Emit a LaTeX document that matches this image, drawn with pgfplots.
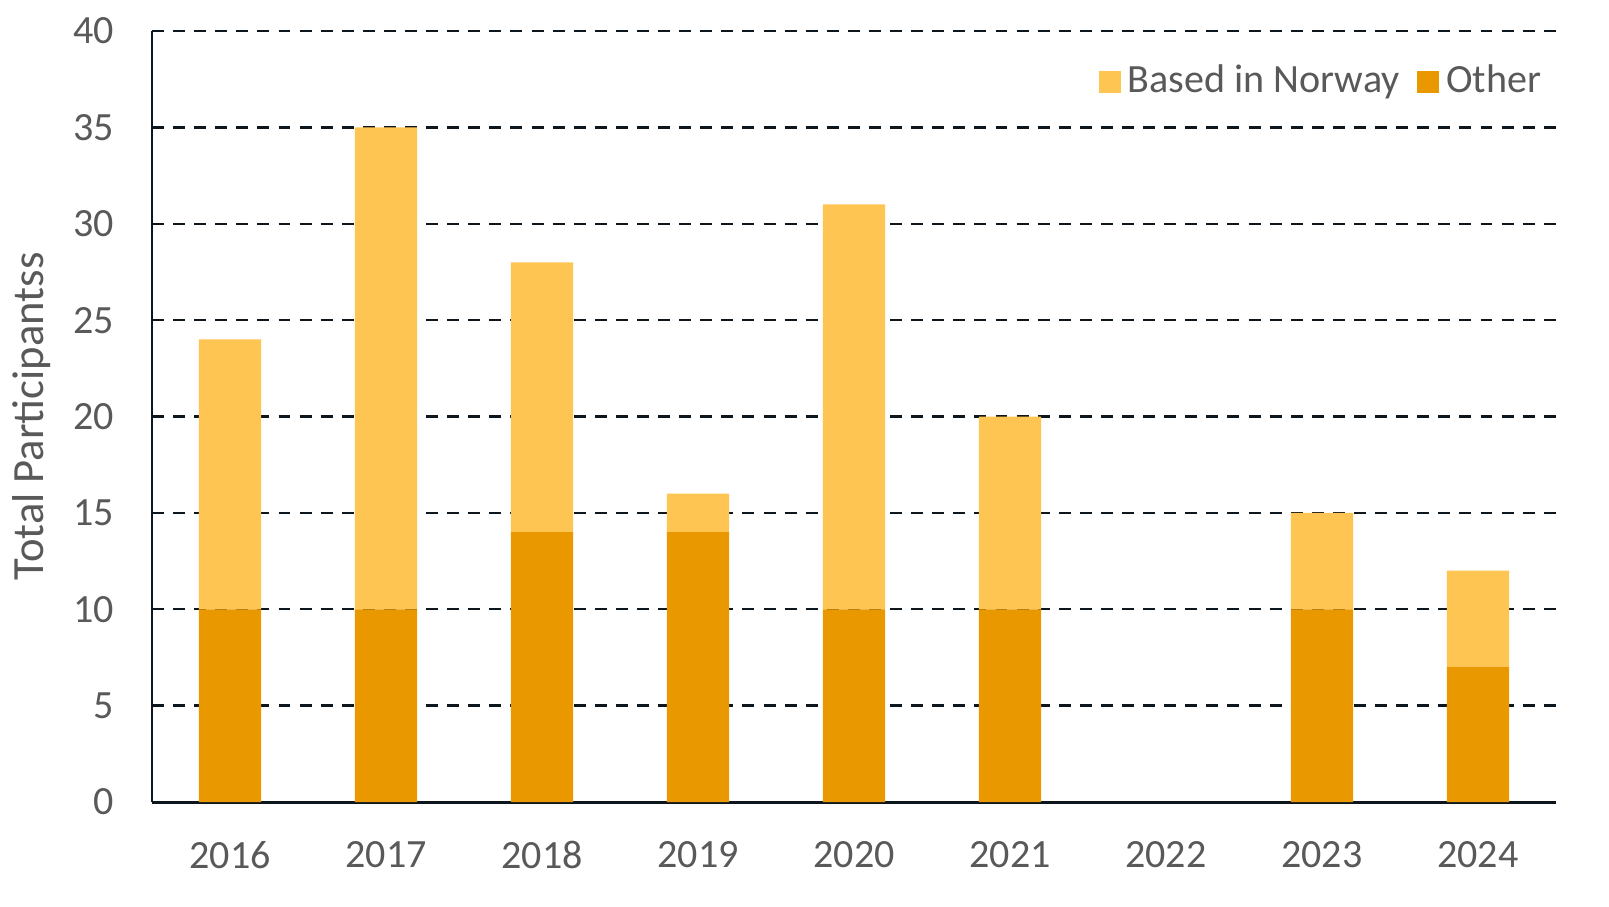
\documentclass[border=0pt]{standalone}
\usepackage{pgfplots}
\pgfplotsset{compat=1.18}
\usepackage{fontspec}
\setmainfont{Carlito}
\definecolor{other}{HTML}{EA9800}
\definecolor{norway}{HTML}{FFC553}
\definecolor{txt}{HTML}{595959}
\definecolor{ln}{HTML}{0D161C}
\begin{document}
\begin{tikzpicture}
\begin{axis}[
  at={(0,0)}, anchor=south west,
  scale only axis,
  width=14.04cm, height=7.71cm,
  ybar stacked,
  bar width=0.4,
  xmin=-0.5, xmax=8.5,
  ymin=0, ymax=40,
  ytick={0,5,...,40},
  xtick={0,...,8},
  xticklabels={2016,2017,2018,2019,2020,2021,2022,2023,2024},
  axis x line*=bottom,
  axis y line*=left,
  axis line style={ln, line width=0.85pt, -},
  major tick length=0pt,
  ymajorgrids,
  grid style={ln, line width=0.7pt, dash pattern=on 3.4pt off 2.6pt},
  tick label style={font=\fontsize{11.4}{14}\selectfont, text=txt},
  yticklabel style={xshift=-7.3pt},
  xticklabel style={yshift=-7.7pt},
  /pgf/number format/assume math mode=true,
  ylabel={Total Participantss},
  ylabel style={font=\fontsize{12.7}{15}\selectfont, text=txt, at={(-1.2cm,0.5)}, rotate=0, anchor=center},
  legend style={draw=none, fill=none, at={(1,0.975)}, anchor=north east, xshift=1pt,
    legend columns=2, font=\fontsize{11.4}{14}\selectfont, text=txt,
    /tikz/every even column/.append style={column sep=3pt}},
  legend image code/.code={\fill[#1] (-0.04cm,-0.11cm) rectangle (0.18cm,0.11cm);},
]
\addplot[fill=other, draw=none, forget plot] coordinates {(0,10) (1,10) (2,14) (3,14) (4,10) (5,10) (6,0) (7,10) (8,7)};
\addplot[fill=norway, draw=none, forget plot] coordinates {(0,14) (1,25) (2,14) (3,2) (4,21) (5,10) (6,0) (7,5) (8,5)};
\addlegendimage{fill=norway, draw=none}
\addlegendentry{Based in Norway}
\addlegendimage{fill=other, draw=none}
\addlegendentry{Other}
\end{axis}
\pgfresetboundingbox
\path[use as bounding box] (-1.52,-1.04) rectangle (14.57,8.02);
\end{tikzpicture}%
\end{document}
